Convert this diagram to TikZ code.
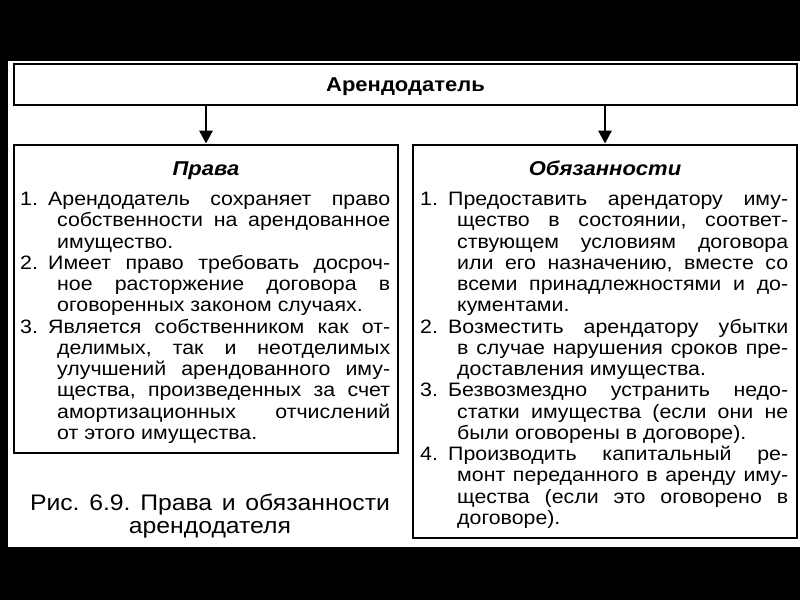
\documentclass[tikz,border=0pt]{standalone}
\usepackage{fontspec}
\setmainfont{Liberation Sans}[FakeStretch=1.1]
\usetikzlibrary{arrows.meta}
\frenchspacing
\newdimen\jw
\newcommand\jfirst[2]{\hbox to\jw{\hbox to 28pt{#1\hfil}#2}}
\newcommand\jcont[1]{\hbox to\jw{\hskip37pt\relax #1}}
\newcommand\jlast[1]{\hbox to\jw{\hskip37pt\relax #1\hfil}}
\begin{document}
\begin{tikzpicture}[x=1pt,y=-1pt,
  box/.style={draw=black, line width=2.8pt, inner sep=0pt},
  body/.style={font=\fontsize{19.4pt}{21.25pt}\selectfont, inner sep=0pt, anchor=north west},
  head/.style={font=\bfseries\itshape\fontsize{20pt}{24pt}\selectfont, anchor=base, inner sep=0pt},
  arr/.style={line width=2.8pt, -{Triangle[length=13pt,width=13pt]}}]
\useasboundingbox (0,0) rectangle (800,600);
\fill[black] (0,0) rectangle (800,600);
\fill[white] (8,61) rectangle (800,547);

\node[box, minimum width=783pt, minimum height=41pt, text depth=0pt,
      font=\bfseries\fontsize{20pt}{24pt}\selectfont] (top) at (405.5,84.5) {Арендодатель};
\node[box, minimum width=384pt, minimum height=308pt] (L) at (206,299) {};
\node[box, minimum width=384pt, minimum height=393pt] (R) at (605,341.5) {};

\draw[arr] (top.south -| L.north) -- (L.north);
\draw[arr] (top.south -| R.north) -- (R.north);

\node[head] (Lh) at (206,175) {Права};
\node[head] (Rh) at (605,175) {Обязанности};

\node[body] (Lt) at (20,192) {\jw=370pt\relax\vtop{%
\jfirst{1.}{Арендодатель сохраняет право}%
\jcont{собственности на арендованное}%
\jlast{имущество.}%
\jfirst{2.}{Имеет право требовать досроч-}%
\jcont{ное расторжение договора в}%
\jlast{оговоренных законом случаях.}%
\jfirst{3.}{Является собственником как от-}%
\jcont{делимых, так и неотделимых}%
\jcont{улучшений арендованного иму-}%
\jcont{щества, произведенных за счет}%
\jcont{амортизационных отчислений}%
\jlast{от этого имущества.}%
}};

\node[body] (Rt) at (420,192) {\jw=368pt\relax\vtop{%
\jfirst{1.}{Предоставить арендатору иму-}%
\jcont{щество в состоянии, соответ-}%
\jcont{ствующем условиям договора}%
\jcont{или его назначению, вместе со}%
\jcont{всеми принадлежностями и до-}%
\jlast{кументами.}%
\jfirst{2.}{Возместить арендатору убытки}%
\jcont{в случае нарушения сроков пре-}%
\jlast{доставления имущества.}%
\jfirst{3.}{Безвозмездно устранить недо-}%
\jcont{статки имущества (если они не}%
\jlast{были оговорены в договоре).}%
\jfirst{4.}{Производить капитальный ре-}%
\jcont{монт переданного в аренду иму-}%
\jcont{щества (если это оговорено в}%
\jlast{договоре).}%
}};

\node[inner sep=0pt, anchor=north, align=center,
      font=\fontsize{22.5pt}{23pt}\selectfont] (cap) at (210,493.5)
  {\makebox[360pt][s]{Рис. 6.9. Права и обязанности}\\арендодателя};
\end{tikzpicture}
\end{document}
